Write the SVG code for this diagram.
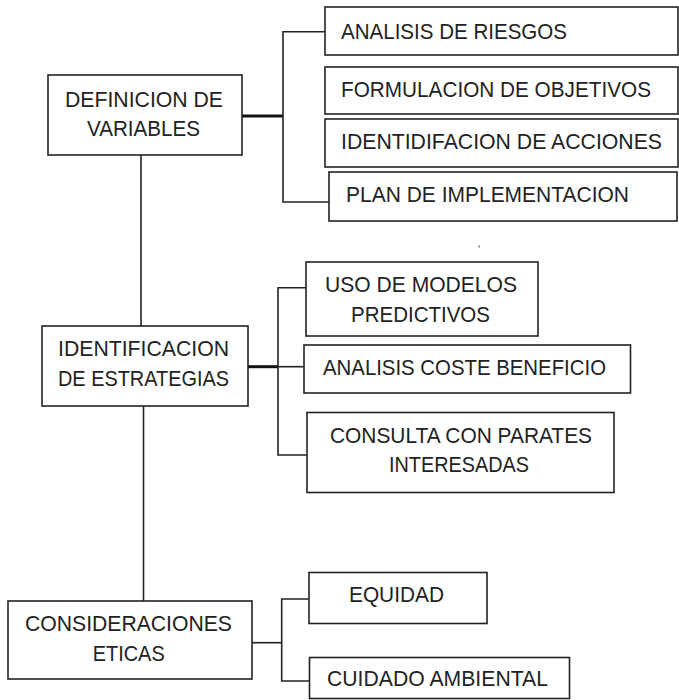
<svg xmlns="http://www.w3.org/2000/svg" width="679" height="700" viewBox="0 0 679 700">
<style>
.box{fill:#fff;stroke:#222;stroke-width:1.6}
.t{font-family:"Liberation Sans",Arial,sans-serif;font-size:22px;fill:#222}
.c{fill:none;stroke:#222;stroke-width:1.6}
.ct{fill:none;stroke:#111;stroke-width:3}
</style>
<rect width="679" height="700" fill="#fff"/>
<g id="connectors">
<path class="c" d="M141 155V326"/>
<path class="c" d="M143.5 406V601"/>
<path class="ct" d="M242 116H283"/>
<path class="c" d="M325 31.7H283V202H332"/>
<path class="ct" d="M248 366.7H278"/>
<path class="c" d="M306 287.7H278V455H307"/>
<path class="c" d="M278 366.7H304"/>
<path class="c" d="M252 642.7H281.7"/>
<path class="c" d="M310 599H281.7V681H310"/>
</g>
<g id="definicion">
<rect class="box" x="48" y="75" width="194" height="80"/>
<text class="t" x="65" y="107" textLength="158" lengthAdjust="spacingAndGlyphs">DEFINICION DE</text>
<text class="t" x="87" y="136" textLength="113" lengthAdjust="spacingAndGlyphs">VARIABLES</text>
</g>
<g id="analisis-riesgos">
<rect class="box" x="325" y="7" width="353" height="48"/>
<text class="t" x="341" y="39" textLength="226" lengthAdjust="spacingAndGlyphs">ANALISIS DE RIESGOS</text>
</g>
<g id="formulacion">
<rect class="box" x="325" y="67" width="353" height="47"/>
<text class="t" x="341" y="97" textLength="310" lengthAdjust="spacingAndGlyphs">FORMULACION DE OBJETIVOS</text>
</g>
<g id="identidifacion">
<rect class="box" x="325" y="119" width="353" height="48"/>
<text class="t" x="341" y="149" textLength="321" lengthAdjust="spacingAndGlyphs">IDENTIDIFACION DE ACCIONES</text>
</g>
<g id="plan">
<rect class="box" x="329" y="172" width="348" height="49"/>
<text class="t" x="346" y="202" textLength="283" lengthAdjust="spacingAndGlyphs">PLAN DE IMPLEMENTACION</text>
</g>
<g id="identificacion">
<rect class="box" x="42" y="326" width="206" height="80"/>
<text class="t" x="58" y="355.7" textLength="171" lengthAdjust="spacingAndGlyphs">IDENTIFICACION</text>
<text class="t" x="58" y="385.7" textLength="171" lengthAdjust="spacingAndGlyphs">DE ESTRATEGIAS</text>
</g>
<g id="uso-modelos">
<rect class="box" x="306" y="262" width="232" height="74"/>
<text class="t" x="325" y="291.7" textLength="192" lengthAdjust="spacingAndGlyphs">USO DE MODELOS</text>
<text class="t" x="351" y="322" textLength="139" lengthAdjust="spacingAndGlyphs">PREDICTIVOS</text>
</g>
<g id="coste-beneficio">
<rect class="box" x="304" y="345" width="326.5" height="48"/>
<text class="t" x="323" y="374.7" textLength="283" lengthAdjust="spacingAndGlyphs">ANALISIS COSTE BENEFICIO</text>
</g>
<g id="consulta">
<rect class="box" x="307" y="412.5" width="307" height="80"/>
<text class="t" x="330" y="442.7" textLength="262" lengthAdjust="spacingAndGlyphs">CONSULTA CON PARATES</text>
<text class="t" x="389" y="472" textLength="140" lengthAdjust="spacingAndGlyphs">INTERESADAS</text>
</g>
<rect x="478.5" y="245.5" width="1.2" height="2" fill="#555"/>
<g id="consideraciones">
<rect class="box" x="8" y="601" width="244" height="78"/>
<text class="t" x="25" y="631" textLength="207" lengthAdjust="spacingAndGlyphs">CONSIDERACIONES</text>
<text class="t" x="92.7" y="661" textLength="72" lengthAdjust="spacingAndGlyphs">ETICAS</text>
</g>
<g id="equidad">
<rect class="box" x="309" y="572.5" width="178" height="51"/>
<text class="t" x="349" y="602.3" textLength="95" lengthAdjust="spacingAndGlyphs">EQUIDAD</text>
</g>
<g id="cuidado">
<rect class="box" x="309.5" y="657.5" width="260" height="41"/>
<text class="t" x="327" y="686" textLength="221" lengthAdjust="spacingAndGlyphs">CUIDADO AMBIENTAL</text>
</g>
</svg>
